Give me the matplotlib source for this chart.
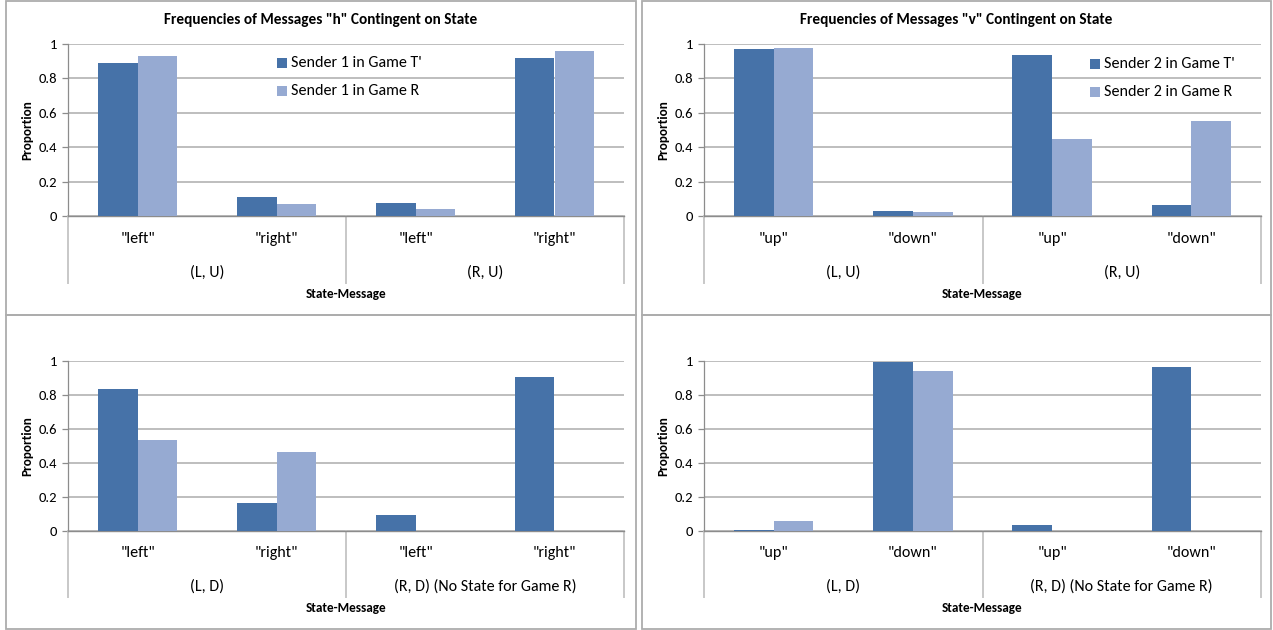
import numpy as np
import matplotlib
matplotlib.use("Agg")
import matplotlib.pyplot as plt
from matplotlib import font_manager
from matplotlib.patches import Rectangle

W, H, DPI = 1273, 630, 100


def pick_font(candidates):
    names = {f.name for f in font_manager.fontManager.ttflist}
    for c in candidates:
        if c in names:
            return c
    return "DejaVu Sans"


FONT = pick_font(["Carlito", "Calibri", "Liberation Sans Narrow", "Lato"])
plt.rcParams["font.family"] = [FONT, "DejaVu Sans"]

# ---- data -------------------------------------------------------------
h_messages = ['"left"', '"right"']
v_messages = ['"up"', '"down"']
states_top = ["(L, U)", "(R, U)"]
states_bottom = ["(L, D)", "(R, D) (No State for Game R)"]

h_up_sender1_t = [0.889, 0.110, 0.078, 0.920]
h_up_sender1_r = [0.928, 0.070, 0.041, 0.957]
v_up_sender2_t = [0.971, 0.029, 0.934, 0.066]
v_up_sender2_r = [0.975, 0.025, 0.446, 0.552]
h_down_sender1_t = [0.838, 0.162, 0.094, 0.908]
h_down_sender1_r = [0.534, 0.464, np.nan, np.nan]
v_down_sender2_t = [0.008, 0.994, 0.035, 0.967]
v_down_sender2_r = [0.057, 0.943, np.nan, np.nan]

series_names_1 = ["Sender 1 in Game T'", "Sender 1 in Game R"]
series_names_2 = ["Sender 2 in Game T'", "Sender 2 in Game R"]
y_ticks = [0, 0.2, 0.4, 0.6, 0.8, 1]
y_tick_labels = ["0", "0.2", "0.4", "0.6", "0.8", "1"]

title_h = 'Frequencies of Messages "h" Contingent on State'
title_v = 'Frequencies of Messages "v" Contingent on State'

# ---- style ------------------------------------------------------------
DARK = "#4672A8"
LIGHT = "#96AAD2"
GRID = "#BEBEBE"
AXIS = "#8C8C8C"
SEP = "#C8C8C8"
BORDER = "#ADADAD"


def fx(x):
    return x / W


def fy(y):
    return 1 - y / H


fig = plt.figure(figsize=(W / DPI, H / DPI), dpi=DPI)
fig.patch.set_facecolor("white")

panels = [
    # panel box, plot box (pixels), title, messages, states, values, legend
    dict(box=(6, 1, 636, 315), plot=(68, 44, 624, 216), title=title_h,
         msgs=h_messages, states=states_top,
         vals=(h_up_sender1_t, h_up_sender1_r), names=series_names_1,
         legend=(277, 63, 91), cat_y=239, grp_y=273, xl_y=294, sep_y=283),
    dict(box=(642, 1, 1271, 315), plot=(704, 44, 1261, 216), title=title_v,
         msgs=v_messages, states=states_top,
         vals=(v_up_sender2_t, v_up_sender2_r), names=series_names_2,
         legend=(1090, 64, 92), cat_y=239, grp_y=273, xl_y=294, sep_y=283),
    dict(box=(6, 315, 636, 629), plot=(68, 361, 624, 531), title=None,
         msgs=h_messages, states=states_bottom,
         vals=(h_down_sender1_t, h_down_sender1_r), names=None,
         legend=None, cat_y=553, grp_y=587, xl_y=608, sep_y=597),
    dict(box=(642, 315, 1271, 629), plot=(704, 361, 1261, 531), title=None,
         msgs=v_messages, states=states_bottom,
         vals=(v_down_sender2_t, v_down_sender2_r), names=None,
         legend=None, cat_y=553, grp_y=587, xl_y=608, sep_y=597),
]

n_cat = 4
xpos = np.arange(n_cat) + 0.5
bw = 1 / 3.5  # Excel gap width 150 %

for p in panels:
    bx0, by0, bx1, by1 = p["box"]
    fig.add_artist(Rectangle((fx(bx0), fy(by1)), fx(bx1) - fx(bx0),
                             fy(by0) - fy(by1), transform=fig.transFigure,
                             fill=False, edgecolor=BORDER, lw=1.3))

    px0, py0, px1, py1 = p["plot"]
    ax = fig.add_axes([fx(px0), fy(py1), fx(px1) - fx(px0), fy(py0) - fy(py1)])
    ax.set_xlim(0, n_cat)
    ax.set_ylim(0, 1)
    ax.patch.set_alpha(0)

    t_vals, r_vals = p["vals"]
    ax.bar(xpos - bw / 2, t_vals, bw, color=DARK, zorder=3)
    ax.bar(xpos + bw / 2, r_vals, bw, color=LIGHT, zorder=3)

    ax.set_yticks(y_ticks)
    ax.set_yticklabels(y_tick_labels, fontsize=10.5)
    ax.tick_params(axis="y", length=4, width=0.9, color=AXIS, pad=4)
    ax.set_xticks([])
    ax.yaxis.grid(True, color=GRID, lw=1.4, zorder=0)
    ax.set_axisbelow(True)
    for s in ("top", "right"):
        ax.spines[s].set_visible(False)
    ax.spines["left"].set_color(AXIS)
    ax.spines["left"].set_linewidth(0.9)
    ax.spines["bottom"].set_color(AXIS)
    ax.spines["bottom"].set_linewidth(1.0)

    height = py1 - py0
    # multi-level category axis
    labels = p["msgs"] * 2
    for x, lbl in zip(xpos, labels):
        ax.annotate(lbl, xy=(x, 0), xycoords=ax.get_xaxis_transform(),
                    xytext=(0, -(p["cat_y"] - py1)), textcoords="offset pixels",
                    ha="center", va="center", fontsize=11.5)
    for g, lbl in enumerate(p["states"]):
        ax.annotate(lbl, xy=(2 * g + 1, 0), xycoords=ax.get_xaxis_transform(),
                    xytext=(0, -(p["grp_y"] - py1)), textcoords="offset pixels",
                    ha="center", va="center", fontsize=11.5)
    sep_frac = -(p["sep_y"] - py1) / height
    for xs in (0, 2, 4):
        ax.plot([xs, xs], [0, sep_frac], transform=ax.get_xaxis_transform(),
                color=SEP, lw=1.4, clip_on=False, zorder=1)

    cx_plot = (px0 + px1) / 2
    fig.text(fx(cx_plot), fy(p["xl_y"]), "State-Message", ha="center",
             va="center", fontsize=9.5, fontweight="bold")
    fig.text(fx(bx0 + 21), fy((py0 + py1) / 2), "Proportion", rotation=90,
             ha="center", va="center", fontsize=9.5, fontweight="bold")

    if p["title"]:
        fig.text(fx((bx0 + bx1) / 2), fy(20), p["title"], ha="center",
                 va="center", fontsize=11, fontweight="bold")

    if p["legend"]:
        lx, ly1, ly2 = p["legend"]
        for name, col, ly in zip(p["names"], (DARK, LIGHT), (ly1, ly2)):
            fig.add_artist(Rectangle((fx(lx), fy(ly + 5)), fx(10), 10 / H,
                                     transform=fig.transFigure,
                                     facecolor=col, edgecolor="none"))
            fig.text(fx(lx + 14), fy(ly), name, ha="left", va="center",
                     fontsize=11.5)

fig.savefig("out.png", dpi=DPI, facecolor="white")
